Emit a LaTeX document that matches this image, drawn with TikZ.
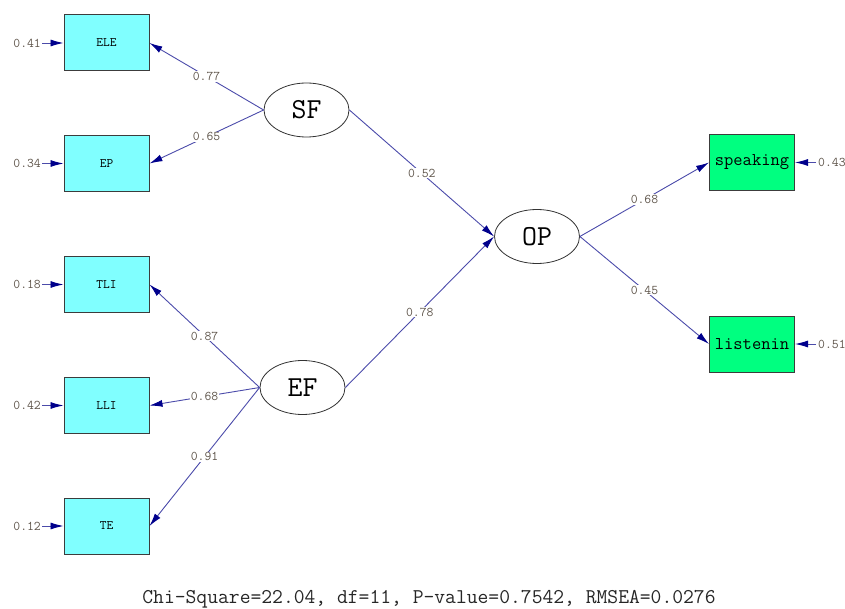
\documentclass[tikz,border=0pt]{standalone}
\usetikzlibrary{arrows.meta,shapes.geometric}
\definecolor{cyanfill}{RGB}{128,255,255}
\definecolor{greenfill}{RGB}{0,255,128}
\definecolor{pathblue}{RGB}{75,75,170}
\definecolor{tipblue}{RGB}{0,0,140}
\definecolor{lblcol}{RGB}{95,85,75}
\definecolor{boxline}{RGB}{60,60,60}
\begin{document}
\begin{tikzpicture}[x=1pt,y=-1pt,
  obs/.style={rectangle,draw=boxline,line width=1pt,fill=cyanfill,minimum width=85pt,minimum height=56pt,inner sep=0pt,font=\ttfamily\fontsize{13}{13}\selectfont},
  obsg/.style={obs,fill=greenfill,font=\ttfamily\fontsize{18}{18}\selectfont},
  lat/.style={ellipse,draw=black!80,line width=0.8pt,fill=white,minimum width=85pt,minimum height=54pt,inner sep=0pt,font=\ttfamily\fontsize{29}{29}\selectfont},
  pth/.style={draw=pathblue,line width=0.9pt,-{Latex[length=13pt,width=7pt,color=tipblue]}},
  lbl/.style={fill=white,inner sep=1pt,font=\ttfamily\fontsize{13.3}{13.3}\selectfont,text=lblcol},
  err/.style={inner sep=0pt,font=\ttfamily\fontsize{13.3}{13.3}\selectfont,text=lblcol}]
\useasboundingbox (0,0) rectangle (845,609);
% observed
\node[obs] (ELE) at (106.5,43) {ELE};
\node[obs] (EP) at (106.5,163.5) {EP};
\node[obs] (TLI) at (106.5,284.5) {TLI};
\node[obs] (LLI) at (106.5,405.5) {LLI};
\node[obs] (TE) at (106.5,526) {TE};
\node[obsg] (SPK) at (752,162.5) {speaking};
\node[obsg] (LIS) at (752,344) {listenin};
% latent
\node[lat] (SF) at (306.5,110) {SF};
\node[lat] (EF) at (302.5,387.5) {EF};
\node[lat] (OP) at (537,236.5) {OP};
% errors
\node[err,anchor=east] (e1) at (41,43) {0.41};
\node[err,anchor=east] (e2) at (41,163.5) {0.34};
\node[err,anchor=east] (e3) at (41,284.5) {0.18};
\node[err,anchor=east] (e4) at (41,405.5) {0.42};
\node[err,anchor=east] (e5) at (41,526) {0.12};
\node[err,anchor=west] (e6) at (818,162.5) {0.43};
\node[err,anchor=west] (e7) at (818,344) {0.51};
\foreach \e/\b in {e1/ELE,e2/EP,e3/TLI,e4/LLI,e5/TE} \draw[pth] ([xshift=1pt]\e.east) -- (\b.west);
\foreach \e/\b in {e6/SPK,e7/LIS} \draw[pth] ([xshift=-2pt]\e.west) -- (\b.east);
% paths
\draw[pth] (SF.west) -- node[lbl]{0.77} (ELE.east);
\draw[pth] (SF.west) -- node[lbl]{0.65} (EP.east);
\draw[pth] (EF.west) -- node[lbl]{0.87} (TLI.east);
\draw[pth] (EF.west) -- node[lbl]{0.68} (LLI.east);
\draw[pth] (EF.west) -- node[lbl]{0.91} (TE.east);
\draw[pth] (SF.east) -- node[lbl]{0.52} (OP.west);
\draw[pth] (EF.east) -- node[lbl]{0.78} (OP.west);
\draw[pth] (OP.east) -- node[lbl]{0.68} (SPK.west);
\draw[pth] (OP.east) -- node[lbl]{0.45} (LIS.west);
% fit statistics
\node[font=\ttfamily\fontsize{21}{21}\selectfont,text=black!85] (fit) at (429,599) {Chi-Square=22.04, df=11, P-value=0.7542, RMSEA=0.0276};
\end{tikzpicture}
\end{document}
